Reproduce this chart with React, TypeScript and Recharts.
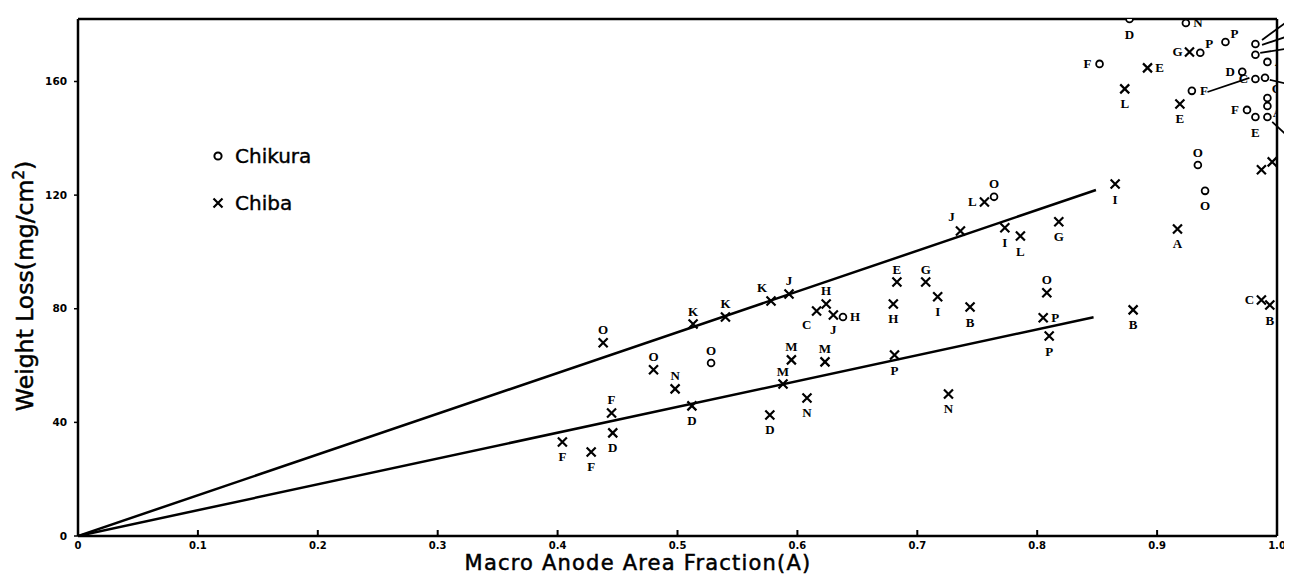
import React from 'react';
import { ScatterChart, Scatter, XAxis, YAxis, ReferenceLine, Legend } from 'recharts';

const xTicks = [0, 0.1, 0.2, 0.3, 0.4, 0.5, 0.6, 0.7, 0.8, 0.9, 1.0];
const xTickLabels = ['0', '0.1', '0.2', '0.3', '0.4', '0.5', '0.6', '0.7', '0.8', '0.9', '1.0'];
const yTicks = [0, 40, 80, 120, 160];

// Chiba (x)
const chibaX = [
  0.438, 0.513, 0.54, 0.578, 0.593, 0.48, 0.498, 0.445, 0.446, 0.404, 0.428, 0.512,
  0.577, 0.588, 0.608, 0.595, 0.623, 0.616, 0.624, 0.63, 0.683, 0.707, 0.68, 0.717,
  0.744, 0.681, 0.726, 0.808, 0.805, 0.81, 0.736, 0.773, 0.786, 0.818, 0.756, 0.865,
  0.917, 0.919, 0.873, 0.892, 0.927, 0.987, 0.996, 0.987, 0.994, 0.88,
];
const chibaY = [
  68.0, 74.6, 77.1, 82.7, 85.2, 58.5, 51.8, 43.3, 36.3, 33.1, 29.6, 45.8,
  42.6, 53.5, 48.6, 62.0, 61.3, 79.2, 81.7, 77.8, 89.4, 89.4, 81.7, 84.2,
  80.6, 63.7, 50.0, 85.6, 76.8, 70.4, 107.4, 108.5, 105.6, 110.6, 117.6, 123.9,
  108.1, 152.1, 157.4, 164.8, 170.4, 128.9, 131.7, 83.1, 81.3, 79.6,
];
const chibaLabels = [
  'O', 'K', 'K', 'K', 'J', 'O', 'N', 'F', 'D', 'F', 'F', 'D',
  'D', 'M', 'N', 'M', 'M', 'C', 'H', 'J', 'E', 'G', 'H', 'I',
  'B', 'P', 'N', 'O', 'P', 'P', 'J', 'I', 'L', 'G', 'L', 'I',
  'A', 'E', 'L', 'E', 'G', '', '', 'C', 'B', 'B',
];
const chibaSides = [
  'a', 'a', 'a', 'al', 'a', 'a', 'a', 'a', 'b', 'b', 'b', 'b',
  'b', 'a', 'b', 'a', 'a', 'bl', 'a', 'b', 'a', 'a', 'b', 'b',
  'b', 'b', 'b', 'a', 'r', 'b', 'al', 'b', 'b', 'b', 'l', 'b',
  'b', 'b', 'b', 'r', 'l', '', '', 'l', 'b', 'b',
];

// Chikura (o)
const chikuraX = [
  0.528, 0.638, 0.764, 0.94, 0.934, 0.929, 0.852, 0.877, 0.924, 0.936, 0.957,
  0.982, 0.982, 0.992, 0.971, 0.982, 0.99, 0.992, 0.992, 0.975, 0.982, 0.992,
];
const chikuraY = [
  60.9, 77.1, 119.4, 121.5, 130.6, 156.7, 166.2, 182, 180.6, 170.1, 173.9,
  173.2, 169.4, 166.9, 163.4, 160.9, 161.3, 154.2, 151.4, 150.0, 147.5, 147.5,
];
const chikuraLabels = [
  'O', 'H', 'O', 'O', 'O', 'F', 'F', 'D', 'N', 'P', 'P',
  '', '', 'A', 'D', 'C', '', 'C', 'A', 'F', 'E', '',
];
const chikuraSides = [
  'a', 'r', 'a', 'b', 'a', 'r', 'l', 'b', 'r', 'ar', 'ar',
  '', '', 'r', 'l', 'l', '', 'ar', 'br', 'l', 'b', '',
];

// fitted lines through the origin
const upperLine = [{ x: 0, y: 0 }, { x: 0.849, y: 121.8 }];
const lowerLine = [{ x: 0, y: 0 }, { x: 0.847, y: 77.0 }];

// pointer arrows in the upper right corner
const arrows = [
  [0.9875, 174.6, 1.0125, 182.4],
  [0.9875, 172.9, 1.0125, 176.4],
  [0.986, 170.1, 1.0125, 171.8],
  [0.994, 160.6, 1.0125, 158.8],
  [0.942, 156.3, 0.977, 161.3],
  [1.0125, 139.4, 0.996, 145.8],
];

const legendItems = [
  { name: 'Chikura', mark: 'o' },
  { name: 'Chiba', mark: 'x' },
];

const chiba = chibaX.map((x, i) => ({ x, y: chibaY[i], label: chibaLabels[i], side: chibaSides[i] }));
const chikura = chikuraX.map((x, i) => ({ x, y: chikuraY[i], label: chikuraLabels[i], side: chikuraSides[i] }));

const offsets: Record<string, [number, number]> = {
  a: [0, -13],
  b: [0, 15],
  l: [-12, 0],
  r: [12, 0],
  al: [-9, -14],
  bl: [-10, 13],
  ar: [9, -9],
  br: [10, 7],
};

function PointLabel({ cx, cy, label, side }: any) {
  if (!label || !offsets[side]) return null;
  const [dx, dy] = offsets[side];
  return (
    <text
      x={cx + dx}
      y={cy + dy}
      textAnchor="middle"
      dominantBaseline="central"
      fontFamily="Liberation Serif"
      fontWeight="bold"
      fontSize={13}
      fill="#000"
    >
      {label}
    </text>
  );
}

const CrossShape = (props: any) => {
  const { cx, cy, payload } = props;
  const s = 4.5;
  return (
    <g>
      <path d={`M${cx - s},${cy - s}L${cx + s},${cy + s}M${cx + s},${cy - s}L${cx - s},${cy + s}`} stroke="#000" strokeWidth={2.2} />
      <PointLabel cx={cx} cy={cy} label={payload.label} side={payload.side} />
    </g>
  );
};

const CircleShape = (props: any) => {
  const { cx, cy, payload } = props;
  return (
    <g>
      <circle cx={cx} cy={cy} r={3.4} fill="#fff" stroke="#000" strokeWidth={1.8} />
      <PointLabel cx={cx} cy={cy} label={payload.label} side={payload.side} />
    </g>
  );
};

const XTick = (props: any) => {
  const { x, y, payload } = props;
  const i = xTicks.indexOf(payload.value);
  return (
    <g>
      {i > 0 && <line x1={x} x2={x} y1={y} y2={y - 6} stroke="#000" strokeWidth={2} />}
      <text x={x} y={y + 13} textAnchor="middle" fontFamily="DejaVu Sans" fontWeight="bold" fontSize={10} fill="#000">
        {xTickLabels[i]}
      </text>
    </g>
  );
};

const XTitle = () => (
  <text
    x={630}
    y={562}
    textAnchor="middle"
    fontFamily="DejaVu Sans"
    fontSize={21}
    letterSpacing={1.2}
    fill="#000"
    stroke="#000"
    strokeWidth={0.5}
  >
    Macro Anode Area Fraction(A)
  </text>
);

const YTitle = () => (
  <text
    x={25}
    y={278}
    transform="rotate(-90 25 278)"
    textAnchor="middle"
    fontFamily="DejaVu Sans"
    fontSize={23.5}
    fill="#000"
    stroke="#000"
    strokeWidth={0.5}
  >
    Weight Loss(mg/cm<tspan dy={-9} fontSize={15}>2</tspan><tspan dy={9}>)</tspan>
  </text>
);

const LegendBox = () => (
  <div style={{ fontFamily: 'DejaVu Sans', fontSize: 20, color: '#000' }}>
    {legendItems.map((it) => (
      <div key={it.name} style={{ display: 'flex', alignItems: 'center', height: 47 }}>
        <svg width={14} height={14} style={{ marginRight: 10 }}>
          {it.mark === 'o' ? (
            <circle cx={7} cy={7} r={3.6} fill="none" stroke="#000" strokeWidth={2} />
          ) : (
            <path d="M2.5,2.5L11.5,11.5M11.5,2.5L2.5,11.5" stroke="#000" strokeWidth={2.2} />
          )}
        </svg>
        <span style={{ WebkitTextStroke: '0.4px #000' }}>{it.name}</span>
      </div>
    ))}
  </div>
);

export default function App() {
  return (
    <div style={{ background: '#fff' }}>
      <ScatterChart width={1284} height={567} margin={{ top: 11, right: 15, bottom: 0, left: 25 }}>
        <XAxis
          type="number"
          dataKey="x"
          domain={[0, 1]}
          ticks={xTicks}
          tickSize={0}
          tickMargin={0}
          tickLine={false}
          tick={<XTick />}
          height={39}
          axisLine={{ stroke: '#000', strokeWidth: 2.5 }}
          allowDataOverflow
          label={<XTitle />}
        />
        <YAxis
          type="number"
          dataKey="y"
          domain={[0, 182]}
          ticks={yTicks}
          width={45}
          tickSize={4}
          tickMargin={7}
          tickLine={{ stroke: '#000', strokeWidth: 1.5 }}
          tick={{ fill: '#000', fontFamily: 'DejaVu Sans', fontWeight: 'bold', fontSize: 10.5 }}
          axisLine={{ stroke: '#000', strokeWidth: 2.5 }}
          allowDataOverflow
          label={<YTitle />}
        />
        <ReferenceLine y={182} stroke="#000" strokeWidth={2.5} ifOverflow="visible" />
        <ReferenceLine x={1} stroke="#000" strokeWidth={2.5} ifOverflow="visible" />
        {arrows.map((a, i) => (
          <ReferenceLine
            key={i}
            segment={[{ x: a[0], y: a[1] }, { x: a[2], y: a[3] }]}
            stroke="#000"
            strokeWidth={1.8}
            ifOverflow="visible"
          />
        ))}
        <Scatter data={upperLine} line={{ stroke: '#000', strokeWidth: 2.5 }} shape={() => <g />} isAnimationActive={false} legendType="none" />
        <Scatter data={lowerLine} line={{ stroke: '#000', strokeWidth: 2.5 }} shape={() => <g />} isAnimationActive={false} legendType="none" />
        <Scatter name="Chiba" data={chiba} shape={CrossShape} isAnimationActive={false} />
        <Scatter name="Chikura" data={chikura} shape={CircleShape} isAnimationActive={false} />
        <Legend
          layout="vertical"
          align="center"
          verticalAlign="middle"
          content={<LegendBox />}
          wrapperStyle={{ left: 203, top: 124, width: 'auto', height: 'auto' }}
        />
      </ScatterChart>
    </div>
  );
}
